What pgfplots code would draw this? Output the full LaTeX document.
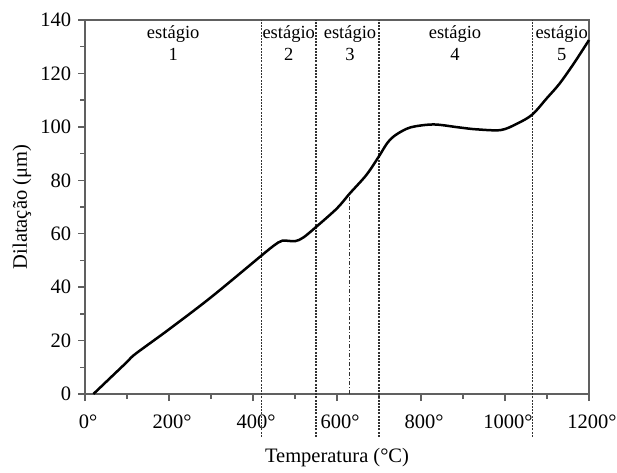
\documentclass[border=0pt]{standalone}
\usepackage{pgfplots}
\pgfplotsset{compat=1.18}
\usepackage{fontspec}
\setmainfont{Liberation Serif}
\begin{document}
\fontsize{20}{24}\selectfont
\begin{tikzpicture}
\begin{axis}[
 at={(0,0)}, anchor=south west,
 width=504pt, height=374pt, scale only axis,
 xmin=0, xmax=1200, ymin=0, ymax=140,
 xtick={0,200,...,1200},
 xticklabels={0°,200°,400°,600°,800°,1000°,1200°},
 ytick={0,20,...,140},
 minor x tick num=1, minor y tick num=1,
 tick align=outside, tick pos=left,
 major tick length=7pt, minor tick length=5pt,
 axis line style={line width=1.6pt, gray!75!black},
 every tick/.style={line width=1.3pt, gray!75!black},
 /pgf/number format/assume math mode=true,
 tick label style={font=\fontsize{20.5}{24}\selectfont},
 xticklabel style={yshift=-7pt, xshift=3pt},
 xlabel={Temperatura (°C)}, ylabel={Dilatação (μm)},
 label style={font=\fontsize{20.5}{24}\selectfont},
 xlabel style={at={(axis description cs:0.5,0)}, anchor=center, yshift=-64pt},
 ylabel style={at={(axis description cs:0,0.5)}, anchor=center, yshift=63pt},
 clip=false,
]
\addplot[dash pattern=on 2pt off 1.2pt, gray!40!black, line width=1.3pt] coordinates {(420,-16) (420,140)};
\addplot[dash pattern=on 2pt off 1.2pt, gray!40!black, line width=1.3pt] coordinates {(550,-16) (550,140)};
\addplot[dash pattern=on 2pt off 1.2pt, gray!40!black, line width=1.3pt] coordinates {(700,-16) (700,140)};
\addplot[dash pattern=on 2pt off 1.2pt, gray!40!black, line width=1.3pt] coordinates {(1065,-16) (1065,140)};
\addplot[dash pattern=on 4pt off 2pt on 1.2pt off 2pt, gray!40!black, line width=1.3pt] coordinates {(630,0) (630,75)};
\addplot[smooth, black, line width=2.5pt] coordinates {
(20,0) (60,6) (100,12) (120,15) (200,24.2) (300,36.2) (420,51.8) (450,55.6) (470,57.4)
(500,57.2) (520,58.6) (550,62.5) (600,69.5) (630,75) (670,82) (700,89) (720,94)
(740,97) (775,99.8) (830,100.9) (890,99.8) (930,99.1) (990,98.8) (1030,101.3)
(1065,104.6) (1100,110.8) (1130,116.2) (1165,124) (1200,132.5)};
\node[align=center, font=\fontsize{18.5}{22}\selectfont] at (axis cs:210,131.5) {estágio\\1};
\node[align=center, font=\fontsize{18.5}{22}\selectfont] at (axis cs:485,131.5) {estágio\\2};
\node[align=center, font=\fontsize{18.5}{22}\selectfont] at (axis cs:631,131.5) {estágio\\3};
\node[align=center, font=\fontsize{18.5}{22}\selectfont] at (axis cs:881,131.5) {estágio\\4};
\node[align=center, font=\fontsize{18.5}{22}\selectfont] at (axis cs:1135,131.5) {estágio\\5};
\end{axis}
\pgfresetboundingbox
\path[use as bounding box] (-85pt,-78pt) rectangle (532pt,394pt);
\end{tikzpicture}
\end{document}
